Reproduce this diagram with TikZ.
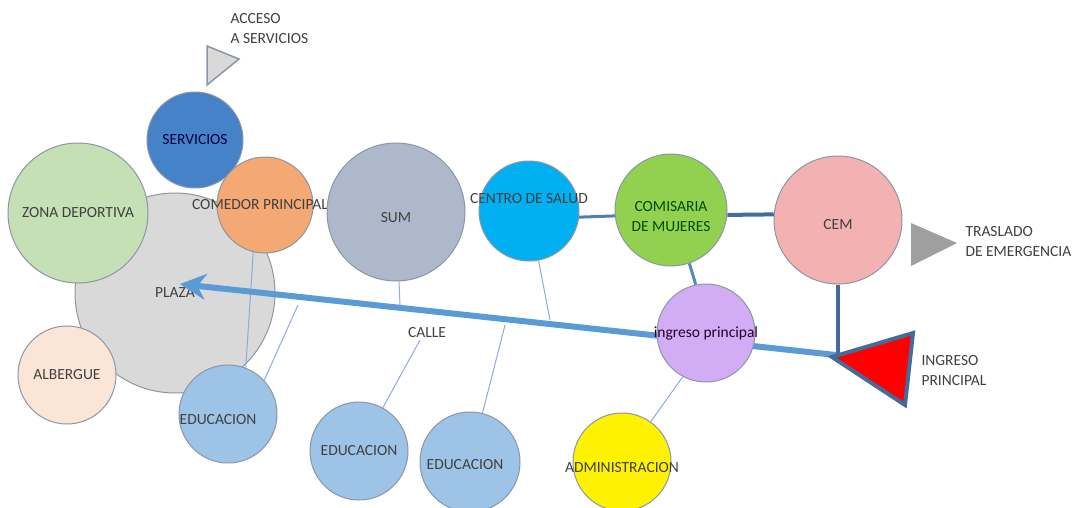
\documentclass[tikz,border=0pt]{standalone}
\usepackage{fontspec}
\setmainfont{Carlito}
\usepackage{tikz}
\usetikzlibrary{positioning, arrows.meta}

\definecolor{borde}{RGB}{140,150,165}
\definecolor{textogris}{RGB}{64,64,64}
\definecolor{fservicios}{RGB}{70,130,200}
\definecolor{fzona}{RGB}{197,224,180}
\definecolor{fcomedor}{RGB}{244,168,115}
\definecolor{fplaza}{RGB}{217,217,217}
\definecolor{falbergue}{RGB}{251,229,214}
\definecolor{feducacion}{RGB}{157,195,230}
\definecolor{fsum}{RGB}{173,185,202}
\definecolor{fsalud}{RGB}{0,176,240}
\definecolor{fcomisaria}{RGB}{146,208,80}
\definecolor{fcem}{RGB}{244,177,177}
\definecolor{fingreso}{RGB}{210,172,245}
\definecolor{flecha}{RGB}{91,155,213}
\definecolor{lineaosc}{RGB}{68,108,155}
\definecolor{lineaclara}{RGB}{143,170,220}

\begin{document}
\begin{tikzpicture}[x=1pt, y=-1pt,
    espacio/.style={circle, draw=borde, line width=1pt, inner sep=0pt, minimum size=#1},
    texto/.style={font=\fontsize{15.5}{20}\selectfont, text=textogris, align=center},
    calle/.style={draw=lineaclara, line width=1pt},
    ]
    \useasboundingbox (0, 0) rectangle (1084, 507);

    % salidas
    \draw[draw=borde, fill=fplaza, line width=1.5pt] (207, 46) -- (239, 59) -- (207, 85) -- cycle;
    \node[texto, align=left, anchor=west] (acceso) at (227, 29) {ACCESO\\A SERVICIOS};
    \fill[gray!75] (911, 223) -- (957, 243) -- (911, 266) -- cycle;
    \node[texto, align=left, anchor=west] (traslado) at (962, 242) {TRASLADO\\DE EMERGENCIA};

    \node[espacio=200pt, fill=fplaza, label={[texto]center:PLAZA}] (plaza) at (175, 293) {};
    \node[espacio=98pt, fill=falbergue, label={[texto]center:ALBERGUE}] (albergue) at (67, 375) {};
    \node[espacio=140pt, fill=fzona, label={[texto]center:ZONA DEPORTIVA}] (zona) at (78, 213) {};
    \node[espacio=96pt, fill=fservicios, label={[texto, text=black!75!blue]center:SERVICIOS}] (servicios) at (195, 140) {};
    \node[espacio=96pt, fill=fcomedor, label={[texto, xshift=-5pt]center:COMEDOR PRINCIPAL}] (comedor) at (265, 205) {};
    \node[espacio=98pt, fill=feducacion, label={[texto, yshift=-6pt, xshift=-10pt]center:EDUCACION}] (edu1) at (228, 414) {};
    \node[espacio=138pt, fill=fsum, label={[texto, yshift=-6pt]center:SUM}] (sum) at (396, 212) {};
    \node[espacio=100pt, fill=fsalud, label={[texto, yshift=12pt]center:CENTRO DE SALUD}] (salud) at (529, 211) {};
    \node[espacio=112pt, fill=fcomisaria, label={[texto, text=black!70!green, yshift=-7pt]center:COMISARIA\\DE MUJERES}] (comisaria) at (671, 210) {};
    \node[espacio=128pt, fill=fcem, label={[texto, yshift=-5pt]center:CEM}] (cem) at (838, 220) {};
    \node[espacio=98pt, fill=feducacion, label={[texto]center:EDUCACION}] (edu2) at (359, 451) {};
    \node[espacio=100pt, fill=feducacion, label={[texto, yshift=-3pt, xshift=-5pt]center:EDUCACION}] (edu3) at (470, 462) {};
    \node[espacio=98pt, fill=yellow, label={[texto, yshift=-6pt]center:ADMINISTRACION}] (admin) at (622, 462) {};
    \node[texto] (calletxt) at (427, 333) {CALLE};

    \coordinate (plazapunta) at (180, 284);
    \coordinate (ingresopunta) at (836, 355);
    \coordinate (sumfin) at (400, 305);
    \coordinate (callefin) at (420, 340);
    \coordinate (saludfin) at (550, 320);
    \coordinate (edu3ini) at (505, 325);
    \coordinate (edu1ini) at (298, 305);
    \coordinate (cemfin) at (838, 357);

    \draw[calle] (comedor.256) -- (edu1.69);
    \draw[calle] (edu1ini) -- (edu1.43);
    \draw[calle] (sum) -- (sumfin);
    \draw[calle] (callefin) -- (edu2);
    \draw[calle] (salud) -- (saludfin);
    \draw[calle] (edu3ini) -- (edu3);

    \draw[lineaosc!60!flecha, line width=3pt] (salud.-7) -- (comisaria.186);
    \draw[lineaosc, line width=4pt] (comisaria.-5) -- (cem.175);
    \draw[lineaosc, line width=4pt] (cem) -- (cemfin);

    \draw[flecha, line width=6pt, -{Stealth[length=26pt, width=26pt]}] (ingresopunta) -- (plazapunta);

    \node[espacio=98pt, fill=fingreso, label={[texto, text=black!70!violet]center:ingreso principal}] (ingreso) at (706, 333) {};
    \draw[calle] (admin) -- (ingreso.242);
    \draw[flecha!90!black, line width=3pt] (comisaria.289) -- (ingreso.102);

    % ingreso principal
    \draw[draw=lineaosc, fill=red, line width=4pt, line join=miter] (832, 357) -- (913, 333) -- (905, 405) -- cycle;
    \node[texto, align=left, anchor=west] (ingresotxt) at (918, 371) {INGRESO\\PRINCIPAL};
\end{tikzpicture}
\end{document}
